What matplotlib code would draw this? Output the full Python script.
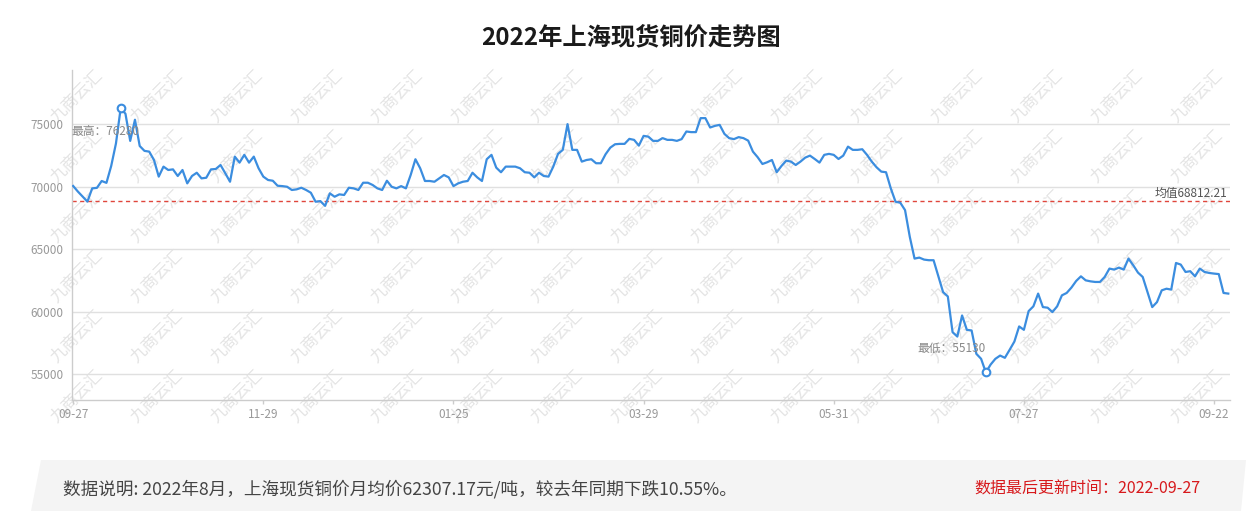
import matplotlib
matplotlib.use("Agg")
import matplotlib.pyplot as plt
from matplotlib.patches import Polygon
import numpy as np

plt.rcParams['font.family'] = ['Noto Sans CJK SC', 'DejaVu Sans']

# ---------------- data ----------------
title = "2022年上海现货铜价走势图"
tick_labels = ["09-27", "11-29", "01-25", "03-29", "05-31", "07-27", "09-22"]
tick_index = [0, 40, 80, 120, 160, 200, 240]
prices = [
    70050, 69600, 69200, 68800, 69860, 69900, 70450, 70300, 71650, 73450,
    76280, 75830, 73660, 75350, 73250, 72860, 72800, 72130, 70800, 71600,
    71330, 71380, 70850, 71330, 70260, 70850, 71110, 70660, 70710, 71380,
    71410, 71730, 71070, 70390, 72400, 71920, 72540, 71920, 72400, 71470,
    70800, 70530, 70470, 70070, 70040, 69990, 69730, 69780, 69910, 69730,
    69510, 68790, 68840, 68460, 69460, 69190, 69380, 69330, 69910, 69860,
    69730, 70310, 70310, 70130, 69860, 69730, 70470, 69990, 69860, 70040,
    69860, 70930, 72190, 71470, 70450, 70450, 70390, 70660, 70930, 70740,
    70040, 70260, 70390, 70450, 71110, 70740, 70450, 72190, 72540, 71520,
    71150, 71600, 71600, 71600, 71470, 71150, 71110, 70740, 71110, 70850,
    70800, 71600, 72620, 72940, 75000, 72940, 72940, 72000, 72130, 72190,
    71870, 71870, 72590, 73120, 73390, 73420, 73420, 73820, 73740, 73280,
    74060, 74000, 73660, 73660, 73880, 73740, 73740, 73660, 73800, 74410,
    74360, 74360, 75480, 75480, 74730, 74860, 74940, 74220, 73880, 73800,
    73960, 73880, 73680, 72800, 72350, 71810, 71950, 72130, 71150, 71650,
    72080, 72000, 71730, 72000, 72320, 72480, 72210, 71920, 72540, 72620,
    72540, 72210, 72480, 73200, 72940, 72940, 72990, 72540, 72000, 71550,
    71200, 71150, 69860, 68790, 68710, 68120, 65980, 64240, 64320, 64160,
    64110, 64110, 62820, 61560, 61210, 58350, 58000, 59690, 58540, 58490,
    56620, 56220, 55130, 55760, 56220, 56480, 56300, 56940, 57600, 58810,
    58540, 60040, 60420, 61440, 60360, 60310, 59960, 60420, 61300, 61490,
    61920, 62450, 62820, 62500, 62420, 62370, 62370, 62770, 63440, 63360,
    63520, 63360, 64240, 63710, 63120, 62770, 61560, 60360, 60760, 61700,
    61830, 61760, 63890, 63760, 63170, 63230, 62820, 63440, 63170, 63090,
    63040, 63000, 61490, 61440,
]
mean_value = 68812.21
max_label = "最高：76280"
min_label = "最低：55130"
mean_label = "均值68812.21"
y_ticks = [55000, 60000, 65000, 70000, 75000]
note_text = "数据说明: 2022年8月，上海现货铜价月均价62307.17元/吨，较去年同期下跌10.55%。"
update_text = "数据最后更新时间：2022-09-27"

# ---------------- figure ----------------
W, H = 1252, 511
fig = plt.figure(figsize=(W / 100, H / 100), dpi=100)
fig.patch.set_facecolor("white")

def fx(px):
    return px / W

def fy(py):
    return 1 - py / H

# background layer (watermarks + info bar)
bg = fig.add_axes([0, 0, 1, 1], zorder=0)
bg.set_xlim(0, W)
bg.set_ylim(H, 0)
bg.axis("off")
for cx in np.arange(-3.3, 1260, 80):
    for cy in np.arange(96.7, 420, 60):
        if cx < 35 or cx > 1245:
            continue
        bg.text(cx, cy, "九商云汇", rotation=45, fontsize=12,
                color="#e4e4e4", ha="center", va="center", zorder=0)
bg.add_patch(Polygon([(41, 460), (1246, 460), (1241, 511), (31, 511)],
                     closed=True, facecolor="#f4f4f4", edgecolor="none", zorder=1))
bg.text(63, 489, note_text, ha="left", va="center", fontsize=12.7,
        color="#444444", zorder=2)
bg.text(1200, 489, update_text, ha="right", va="center", fontsize=11.5,
        color="#d7191c", zorder=2)
bg.text(631, 37, title, ha="center", va="center", fontsize=17.5,
        fontweight="bold", color="#1a1a1a", zorder=2)

ax = fig.add_axes([fx(71.5), fy(400), fx(1230) - fx(71.5), fy(70) - fy(400)], zorder=1)
ax.patch.set_alpha(0)

x = np.arange(len(prices))
vmax = max(prices)
vmin = min(prices)
ax.set_ylim(vmin * 0.96, vmax * 1.04)
ax.set_xlim(-0.35, len(prices) - 1 + 0.36)

ax.plot(x, prices, color="#3b8ddf", lw=1.6, zorder=3, solid_joinstyle="round")
ax.axhline(mean_value, color="#e0463c", lw=1.0, ls=(0, (3, 2.5)), zorder=2)

imax = int(np.argmax(prices))
imin = int(np.argmin(prices))
ax.plot([imax], [vmax], marker="o", ms=5.5, mfc="white", mec="#3b8ddf", mew=1.5, zorder=4)
ax.plot([imin], [vmin], marker="o", ms=5.5, mfc="white", mec="#3b8ddf", mew=1.5, zorder=4)

ax.annotate(max_label, (imax, vmax), xytext=(-15.5, -23), textcoords="offset pixels",
            ha="center", va="center", fontsize=8.5, color="#888888", zorder=5)
ax.annotate(min_label, (imin, vmin), xytext=(-34, 24), textcoords="offset pixels",
            ha="center", va="center", fontsize=8.5, color="#888888", zorder=5)
ax.annotate(mean_label, (1, mean_value), xycoords=("axes fraction", "data"),
            xytext=(-3, 8), textcoords="offset pixels",
            ha="right", va="center", fontsize=8.5, color="#555555", zorder=5)

ax.set_yticks(y_ticks)
ax.set_yticklabels([str(v) for v in y_ticks])
ax.set_xticks(tick_index)
ax.set_xticklabels(tick_labels)
ax.grid(axis="y", color="#e0e0e0", lw=1.0, zorder=1)
ax.tick_params(axis="y", length=0, pad=5.5, labelsize=8.5, labelcolor="#999999")
ax.tick_params(axis="x", length=3, width=1, color="#cccccc", pad=3,
               labelsize=8.5, labelcolor="#999999")
for s in ["top", "right"]:
    ax.spines[s].set_visible(False)
for s in ["left", "bottom"]:
    ax.spines[s].set_color("#cccccc")
    ax.spines[s].set_linewidth(1.0)

fig.savefig("out.png", dpi=100)
